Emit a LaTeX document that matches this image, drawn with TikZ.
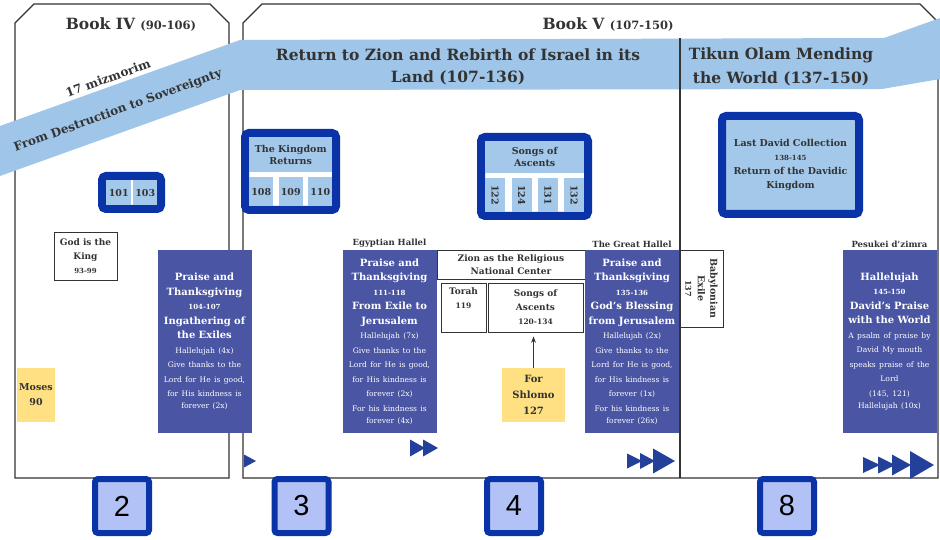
\documentclass[tikz,border=0pt]{standalone}
\usepackage{fontspec}
\usepackage{graphicx}
\setmainfont{DejaVu Serif}
\newfontfamily\numfont{Liberation Sans}
\usetikzlibrary{positioning, arrows.meta, calc}
\definecolor{ink}{HTML}{333333}
\definecolor{band}{HTML}{9FC5E8}
\definecolor{deepblue}{HTML}{0B33A8}
\definecolor{cellc}{HTML}{A4C8EA}
\definecolor{hallelc}{HTML}{4A55A3}
\definecolor{notec}{HTML}{FFE083}
\definecolor{squarec}{HTML}{B3C2F6}
\definecolor{playc}{HTML}{23409A}
\newcommand{\fsz}[2]{\fontsize{#1}{#2}\selectfont}
\newcommand{\hdf}{\fsz{10}{14.5}\bfseries}
\newcommand{\nmf}{\fsz{7}{14.5}\bfseries}
\newcommand{\smf}{\fsz{7.6}{14.5}\mdseries}

\begin{document}
\begin{tikzpicture}[
  x=1pt, y=-1pt,
  >={Stealth[length=2.2mm]},
  frame/.style={draw=ink, line width=1.3pt},
  coll/.style={draw=deepblue, line width=8pt, rounded corners=4pt, inner sep=0pt},
  cell/.style={fill=cellc, inner sep=0pt, anchor=north west, align=center, text=ink, font=\fsz{9.5}{12}\bfseries},
  hallel/.style={fill=hallelc, text=white, align=center, text width=92pt, inner sep=1pt, minimum height=183pt},
  lbl/.style={font=\fsz{8.5}{10}\bfseries, text=ink, inner sep=1pt},
  note/.style={fill=notec, align=center, inner sep=0pt, text=ink, font=\fsz{10}{16}\bfseries},
  plain/.style={draw=ink, line width=0.9pt, fill=white, align=center, inner sep=0pt, text=ink, font=\fsz{9}{14}\bfseries},
  head/.style={font=\fsz{15.5}{18}\bfseries, text=ink},
  bandtxt/.style={font=\fsz{15.5}{22}\bfseries, align=center, text=ink},
  slant/.style={rotate=20, text=ink, inner sep=0pt, font=\fsz{12}{13}\bfseries},
  numsq/.style={draw=deepblue, fill=squarec, line width=6pt, rounded corners=3pt, minimum size=54pt, inner sep=0pt, font=\numfont\fsz{29}{30}},
  play/.style={fill=playc},
  arr/.style={->, line width=1pt, draw=ink},
]
\useasboundingbox (0,0) rectangle (940,540);

% ---------------- book frames ----------------
\draw[frame] (15,478) -- (15,23) -- (34,4) -- (210,4) -- (229,23) -- (229,478) -- cycle;
\draw[frame] (243,478) -- (243,23) -- (262,4) -- (920,4) -- (938,22) -- (938,478) -- cycle;
\node[head] (bookIV) at (131,25) {Book IV {\fsz{11.5}{13}(90-106)}};
\node[head] (bookV) at (608,25) {Book V {\fsz{11.5}{13}(107-150)}};

% ---------------- ribbon ----------------
\fill[band] (0,126) -- (240,40) -- (884,38) -- (940,18) -- (940,79) -- (882,89) -- (240,90) -- (0,176) -- cycle;
\draw[frame] (680,38) -- (680,478);
\node[slant] (mizmorim) at (108,78) {17 mizmorim};
\node[slant] (fromdest) at (118,111) {From Destruction to Sovereignty};
\node[bandtxt] (zionband) at (458,67) {Return to Zion and Rebirth of Israel in its\\Land (107-136)};
\node[bandtxt, font=\fsz{15.5}{24}\bfseries] (tikunband) at (781,67) {Tikun Olam Mending\\the World (137-150)};

% ---------------- collections ----------------
\node[coll, fill=white, minimum width=59pt, minimum height=33pt] (grp101) at (131.5,192.5) {};
\node[cell, minimum width=25pt, minimum height=25pt] (c101) at (106,180) {101};
\node[cell, minimum width=24pt, minimum height=25pt] (c103) at (133,180) {103};

\node[coll, fill=white, minimum width=91pt, minimum height=77pt] (kingdom) at (290.5,171.5) {};
\node[cell, minimum width=83pt, minimum height=35pt] (kingtop) at (249,137) {The Kingdom\\Returns};
\foreach \n [count=\i from 0] in {108,109,110}
  \node[cell, minimum width=24pt, minimum height=29pt] (k\n) at (249+29.5*\i,177) {\n};

\node[coll, fill=white, minimum width=107pt, minimum height=79pt] (ascents) at (534.5,176.5) {};
\node[cell, minimum width=99pt, minimum height=32pt] (asctop) at (485,141) {Songs of\\Ascents};
\foreach \n [count=\i from 0] in {122,124,131,132}
  \node[cell, minimum width=20pt, minimum height=34pt] (a\n) at (485+26.33*\i,178) {\rotatebox{-90}{\n}};

\node[coll, fill=cellc, minimum width=137pt, minimum height=98pt, text width=130pt, align=center, text=ink, font=\fsz{9.5}{14}\bfseries] (lastdavid) at (790.5,165) {Last David Collection\\{\fsz{7}{14}138-145}\\Return of the Davidic\\Kingdom};

% ---------------- Book IV small boxes ----------------
\node[plain, minimum width=63pt, minimum height=48pt] (godking) at (85.5,256) {God is the\\King\\{\fsz{7}{14}93-99}};
\node[note, minimum width=38pt, minimum height=54pt, font=\fsz{9.5}{15}\bfseries] (moses) at (36,395) {Moses\\90};

% ---------------- hallel columns ----------------
\node[hallel] (praiseA) at (204.5,341.5) {\hdf Praise and\\Thanksgiving\\\nmf 104-107\\\hdf Ingathering of\\the Exiles\\\smf Hallelujah (4x)\\Give thanks to the\\Lord for He is good,\\for His kindness is\\forever (2x)};
\node[hallel] (egyptian) at (389.5,341.5) {\hdf Praise and\\Thanksgiving\\\nmf 111-118\\\hdf From Exile to\\Jerusalem\\\smf Hallelujah (7x)\\Give thanks to the\\Lord for He is good,\\for His kindness is\\forever (2x)\\For his kindness is\\forever (4x)};
\node[lbl, above=1pt of egyptian] (egyptlbl) {Egyptian Hallel};

% ---------------- Zion centre ----------------
\node[plain, minimum width=148pt, minimum height=29pt, font=\fsz{9}{13}\bfseries] (zion) at (511,264.5) {Zion as the Religious\\National Center};
\node[plain, minimum width=45pt, minimum height=49pt] (torah) at (463.5,307.5) {Torah\\{\fsz{7.5}{14}119}\\\strut};
\node[plain, minimum width=95pt, minimum height=49pt] (songs) at (535.5,307.5) {Songs of\\Ascents\\{\fsz{7.5}{14}120-134}};
\node[note, minimum width=63pt, minimum height=54pt] (shlomo) at (533.5,395) {For\\Shlomo\\127};
\draw[arr, shorten >=4pt] (shlomo.north) -- (shlomo.north |- songs.south);

\node[hallel] (greathallel) at (632,341.5) {\hdf Praise and\\Thanksgiving\\\nmf 135-136\\\hdf God's Blessing\\from Jerusalem\\\smf Hallelujah (2x)\\Give thanks to the\\Lord for He is good,\\for His kindness is\\forever (1x)\\For his kindness is\\forever (26x)};
\node[lbl, above=1pt of greathallel] (greatlbl) {The Great Hallel};

% ---------------- Tikun Olam ----------------
\node[plain, rotate=-90, minimum width=77pt, minimum height=43pt, font=\fsz{9.5}{12.5}\bfseries] (babylon) at (701.5,288.5) {Babylonian\\Exile\\{\fsz{8}{12.5}137}};
\node[hallel] (pesukei) at (889.5,341.5) {\hdf Hallelujah\\\nmf 145-150\\\hdf David's Praise\\with the World\\\smf A psalm of praise by\\David My mouth\\speaks praise of the\\Lord\\(145, 121)\\Hallelujah (10x)};
\node[lbl, above=1pt of pesukei] (pesukeilbl) {Pesukei d'zimra};

% ---------------- play marks ----------------
\foreach \x/\y/\w/\h in {244/461/12/13, 410/448/15/17, 423/448/15/17, 627/461/15/15, 640/461/15/16, 653/461/22/25, 863/465/17/16, 878/465/17/17, 892/465/19/21, 910/465/24/28}
  \fill[play] (\x,\y-\h/2) -- (\x+\w,\y) -- (\x,\y+\h/2) -- cycle;

% ---------------- lesson numbers ----------------
\node[numsq] (sq2) at (122,506) {2};
\node[numsq] (sq3) at (301.5,506) {3};
\node[numsq] (sq4) at (514,506) {4};
\node[numsq] (sq8) at (787,506) {8};

\end{tikzpicture}
\end{document}
